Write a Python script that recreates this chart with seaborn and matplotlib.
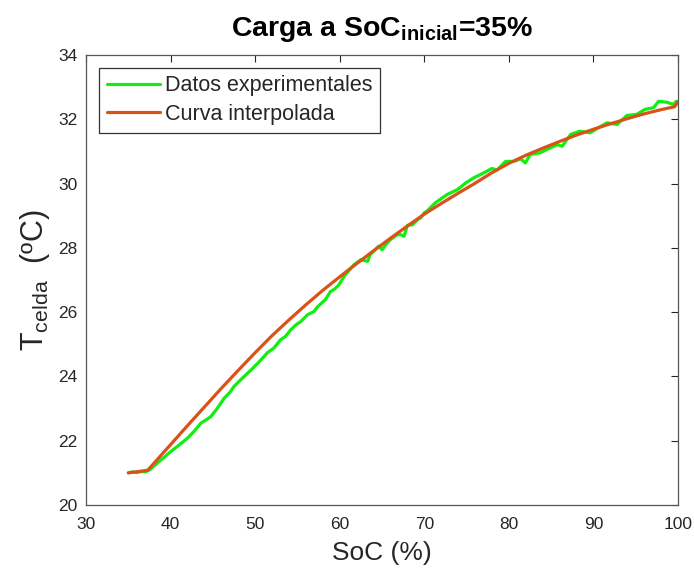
import matplotlib
matplotlib.use("Agg")
import matplotlib.pyplot as plt
import seaborn as sns
import pandas as pd

# Measured cell temperature during charge starting at 35 % SoC
soc_exp = [35.0, 35.5, 36.0, 36.5, 37.0, 37.5, 38.2, 38.85, 39.4, 40.0, 40.6, 41.3,
           42.0, 42.8, 43.6, 44.2, 44.76, 45.5, 46.33, 47.0, 47.5, 48.3, 49.1, 49.7,
           50.3, 51.05, 51.45, 52.2, 53.0, 53.6, 54.2, 54.8, 55.4, 56.2, 56.95, 57.35,
           58.3, 58.9, 59.4, 59.9, 60.5, 61.1, 61.7, 62.5, 63.3, 63.6, 64.1, 64.6,
           65.0, 65.5, 66.0, 66.8, 67.2, 67.6, 68.0, 68.6, 69.2, 69.55, 70.0, 70.3,
           71.1, 71.3, 72.1, 72.7, 73.1, 73.9, 74.9, 75.85, 77.0, 78.0, 78.6, 79.6,
           80.6, 81.4, 81.95, 82.5, 83.7, 84.9, 85.7, 86.3, 87.3, 88.4, 89.6, 90.6,
           91.6, 92.8, 93.95, 95.1, 96.1, 97.1, 97.7, 98.7, 99.45, 99.8]
t_exp = [21.00, 21.03, 21.01, 21.04, 21.03, 21.09, 21.25, 21.40, 21.52, 21.66, 21.78, 21.93,
         22.08, 22.30, 22.55, 22.65, 22.75, 23.00, 23.32, 23.50, 23.69, 23.90, 24.10, 24.25,
         24.41, 24.62, 24.74, 24.88, 25.14, 25.25, 25.45, 25.60, 25.71, 25.92, 26.02, 26.16,
         26.39, 26.64, 26.72, 26.85, 27.11, 27.30, 27.48, 27.63, 27.58, 27.79, 27.92, 28.05,
         27.94, 28.12, 28.26, 28.41, 28.41, 28.36, 28.70, 28.72, 28.88, 28.93, 29.09, 29.14,
         29.35, 29.40, 29.55, 29.66, 29.71, 29.81, 30.02, 30.18, 30.33, 30.47, 30.42, 30.69,
         30.69, 30.77, 30.64, 30.90, 30.96, 31.11, 31.21, 31.16, 31.53, 31.63, 31.58, 31.74,
         31.89, 31.84, 32.12, 32.15, 32.31, 32.36, 32.56, 32.53, 32.46, 32.56]

# Fitted (interpolated) curve
soc_fit = [35.0, 37.3, 38.0, 40.0, 42.0, 44.0, 46.0, 48.0, 50.0, 52.0, 54.0, 56.0, 58.0,
           60.0, 62.0, 64.0, 66.0, 68.0, 70.0, 72.0, 74.0, 76.0, 78.0, 80.0, 82.0, 84.0,
           86.0, 88.0, 90.0, 92.0, 94.0, 96.0, 98.0, 99.6, 100.0]
t_fit = [21.00, 21.08, 21.29, 21.88, 22.47, 23.05, 23.63, 24.19, 24.74, 25.27, 25.76, 26.23, 26.68,
         27.10, 27.51, 27.91, 28.30, 28.68, 29.05, 29.38, 29.70, 30.01, 30.34, 30.63, 30.88, 31.10,
         31.31, 31.51, 31.69, 31.86, 32.02, 32.17, 32.30, 32.39, 32.55]

x_ticks = [30, 40, 50, 60, 70, 80, 90, 100]
y_ticks = [20, 22, 24, 26, 28, 30, 32, 34]

sns.set_style("white")
plt.rcParams["font.family"] = ["Liberation Sans", "DejaVu Sans"]
plt.rcParams["mathtext.fontset"] = "custom"
plt.rcParams["mathtext.rm"] = "Liberation Sans"
plt.rcParams["mathtext.it"] = "Liberation Sans"
plt.rcParams["mathtext.bf"] = "Liberation Sans:bold"

df_exp = pd.DataFrame({"SoC": soc_exp, "T": t_exp})
df_fit = pd.DataFrame({"SoC": soc_fit, "T": t_fit})

fig = plt.figure(figsize=(6.94, 5.73), dpi=100)
ax = fig.add_axes([0.124, 0.1187, 0.853, 0.7853])

sns.lineplot(data=df_exp, x="SoC", y="T", ax=ax, color="#11ee11", linewidth=2.3,
             sort=False, estimator=None, label="Datos experimentales")
sns.lineplot(data=df_fit, x="SoC", y="T", ax=ax, color="#d95319", linewidth=2.3,
             sort=False, estimator=None, label="Curva interpolada")

ax.set_xlim(30, 100)
ax.set_ylim(20, 34)
ax.set_xticks(x_ticks)
ax.set_yticks(y_ticks)
ax.tick_params(direction="in", length=5, width=0.8, top=True, right=True,
               labelsize=12.5, colors="#262626")
ax.tick_params(axis="x", pad=9)
ax.tick_params(axis="y", pad=6)
for sp in ax.spines.values():
    sp.set_color("#555555")
    sp.set_linewidth(0.9)

ax.set_xlabel("SoC (%)", fontsize=19, color="#262626", labelpad=6)
ax.set_ylabel(r"T$_{\mathrm{celda}}$  (ºC)", fontsize=22, color="#262626", labelpad=5)
ax.set_title(r"Carga a SoC$_{\mathbf{inicial}}$=35%", fontsize=20.5, fontweight="bold",
             color="black", pad=14)

leg = ax.legend(loc="upper left", fontsize=15.5, frameon=True, fancybox=False,
                edgecolor="black", handlelength=2.5, handletextpad=0.2,
                borderpad=0.35, labelspacing=0.35, borderaxespad=0.6)
leg.get_frame().set_linewidth(0.9)

fig.savefig("out.png", dpi=100)
